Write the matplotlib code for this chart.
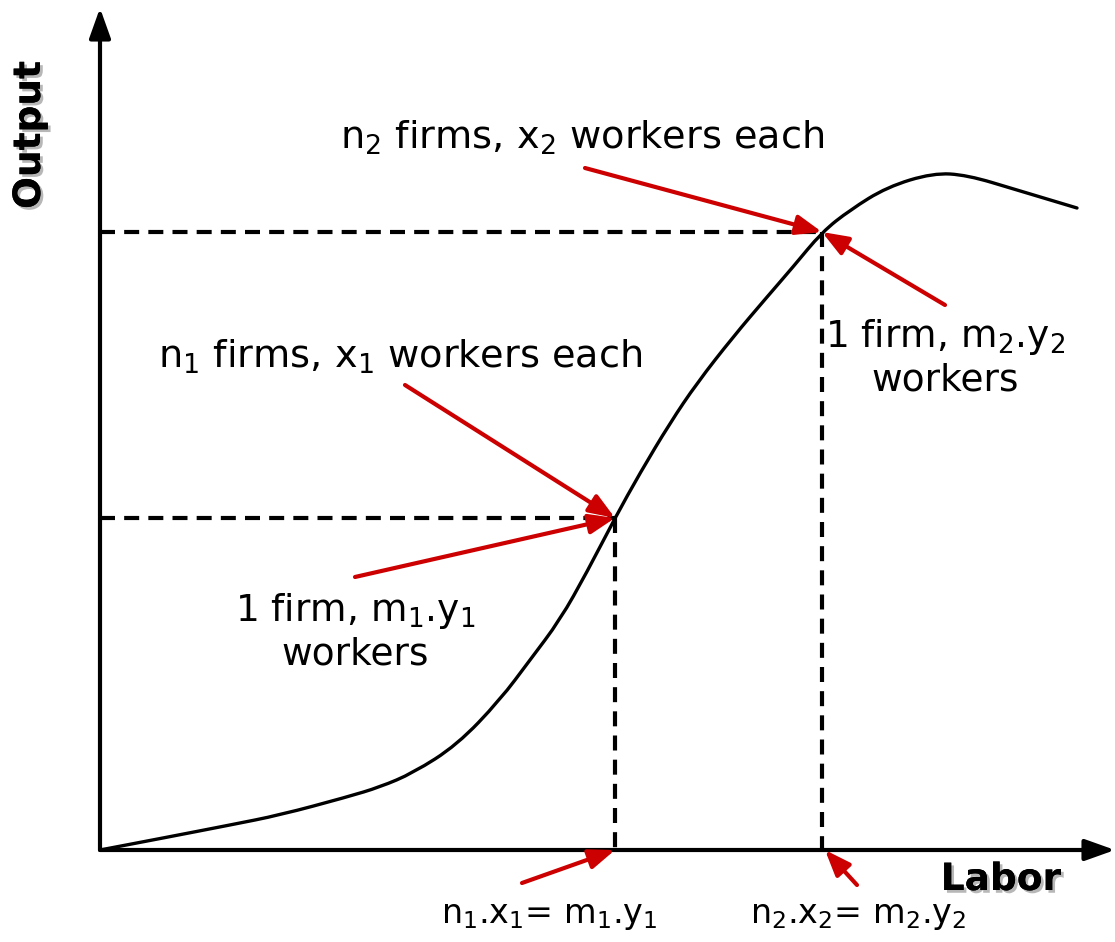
import matplotlib
matplotlib.use("Agg")
import matplotlib.pyplot as plt
import matplotlib.patheffects as pe
from matplotlib.path import Path
from matplotlib.patches import PathPatch

plt.rcParams['font.family'] = ['DejaVu Sans']
plt.rcParams['mathtext.fontset'] = 'dejavusans'

# Production curve (labor, output)
labor = [0, 63, 130, 180, 247, 280, 313, 357, 400, 430, 460, 487, 515, 540,
         570, 597, 633, 667, 693, 722, 750, 787, 833, 867, 917, 977]
output = [0, 12, 25, 35, 53, 63, 77, 105, 150, 190, 230, 278, 332, 377,
          427, 467, 513, 553, 583, 618, 640, 663, 677, 675, 660, 642]

# Marked points on the curve
point_labor = [515, 722]
point_output = [332, 618]

# Annotation texts
top_labels = ["n$_2$ firms, x$_2$ workers each", "n$_1$ firms, x$_1$ workers each"]
side_labels = ["1 firm, m$_2$.y$_2$\nworkers", "1 firm, m$_1$.y$_1$\nworkers"]
axis_labels = ["n$_1$.x$_1$= m$_1$.y$_1$", "n$_2$.x$_2$= m$_2$.y$_2$"]

RED = '#cc0000'

fig = plt.figure(figsize=(11.15, 9.42), dpi=100)
ax = fig.add_axes([0, 0, 1, 1])
ax.set_xlim(-100, 1015)
ax.set_ylim(-92, 850)
ax.axis('off')

# axes with arrowheads
axkw = dict(arrowstyle='-|>,head_length=1.4,head_width=0.5', lw=3, color='black',
            shrinkA=0, shrinkB=0, mutation_scale=13)
ax.annotate('', xy=(0, 842), xytext=(0, 0), arrowprops=axkw)
ax.annotate('', xy=(1015, 0), xytext=(0, 0), arrowprops=axkw)

# smooth curve through the read points (quadratic Bezier path)
pts = list(zip(labor, output))
verts = [pts[0], ((pts[0][0] + pts[1][0]) / 2, (pts[0][1] + pts[1][1]) / 2)]
codes = [Path.MOVETO, Path.LINETO]
for i in range(1, len(pts) - 1):
    mid = ((pts[i][0] + pts[i + 1][0]) / 2, (pts[i][1] + pts[i + 1][1]) / 2)
    verts += [pts[i], mid]
    codes += [Path.CURVE3, Path.CURVE3]
verts.append(pts[-1])
codes.append(Path.LINETO)
ax.add_patch(PathPatch(Path(verts, codes), facecolor='none', edgecolor='black',
                       lw=2.4, joinstyle='round', capstyle='round'))

# dashed guides
dash = (0, (3.6, 2.2))
for px, py in zip(point_labor, point_output):
    ax.plot([0, px], [py, py], color='black', lw=3, linestyle=dash)
    ax.plot([px, px], [py, 0], color='black', lw=3, linestyle=dash)

# red arrows
rkw = dict(arrowstyle='-|>,head_length=1.3,head_width=0.5', lw=3, color=RED,
           shrinkA=0, shrinkB=0, mutation_scale=12)
p1 = (point_labor[0], point_output[0])
p2 = (point_labor[1], point_output[1])
ax.annotate('', xy=p2, xytext=(485, 682), arrowprops=rkw)
ax.annotate('', xy=p2, xytext=(845, 545), arrowprops=rkw)
ax.annotate('', xy=p1, xytext=(305, 465), arrowprops=rkw)
ax.annotate('', xy=p1, xytext=(255, 273), arrowprops=rkw)
ax.annotate('', xy=(p1[0], 0), xytext=(422, -33), arrowprops=rkw)
ax.annotate('', xy=(p2[0] + 3, 0), xytext=(757, -35), arrowprops=rkw)

ax.text(482, 712, top_labels[0], fontsize=27.5, ha='center', va='center')
ax.text(300, 493, top_labels[1], fontsize=27.5, ha='center', va='center')
ax.text(845, 492, side_labels[0], fontsize=27, ha='center', va='center',
        linespacing=1.2)
ax.text(255, 218, side_labels[1], fontsize=27, ha='center', va='center',
        linespacing=1.2)
ax.text(449, -66, axis_labels[0], fontsize=24, ha='center', va='center')
ax.text(758, -66, axis_labels[1], fontsize=24, ha='center', va='center')

shadow = [pe.withSimplePatchShadow(offset=(2, -2), shadow_rgbFace='#888888', alpha=0.6),
          pe.Normal()]
ax.text(-70, 715, 'Output', fontsize=27, fontweight='bold', rotation=90,
        ha='center', va='center', path_effects=shadow)
ax.text(901, -30, 'Labor', fontsize=27, fontweight='bold', ha='center',
        va='center', path_effects=shadow)

fig.savefig('out.png', dpi=100)
